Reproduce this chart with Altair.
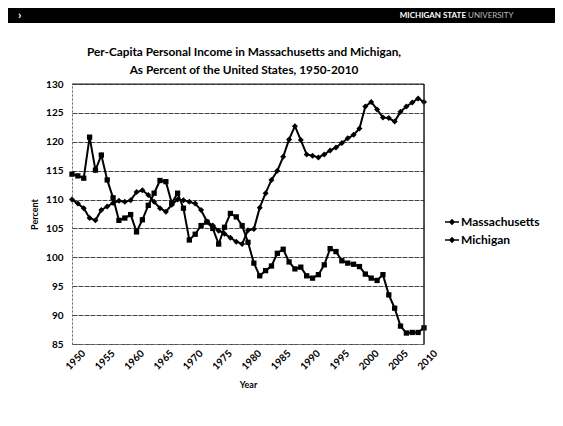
import altair as alt
import pandas as pd

years = list(range(1950, 2011))
series_names = ["Massachusetts", "Michigan"]
massachusetts = [
    110.0, 109.3, 108.5, 106.8, 106.4, 108.2, 108.8, 109.4, 109.8, 109.6,
    109.9, 111.3, 111.6, 110.8, 109.6, 108.5, 107.9, 109.1, 110.0, 109.9,
    109.6, 109.3, 108.2, 106.2, 105.5, 104.6, 104.1, 103.4, 102.7, 102.3,
    104.7, 104.9, 108.6, 111.1, 113.4, 115.0, 117.4, 120.4, 122.7, 120.3,
    117.8, 117.6, 117.3, 117.8, 118.5, 119.0, 119.8, 120.6, 121.2, 122.3,
    126.1, 126.9, 125.6, 124.2, 124.1, 123.5, 125.2, 126.1, 126.8, 127.5,
    126.9,
]
michigan = [
    114.4, 114.1, 113.7, 120.8, 115.1, 117.7, 113.4, 110.3, 106.4, 106.8,
    107.4, 104.4, 106.5, 109.0, 111.1, 113.3, 113.1, 109.4, 111.1, 108.5,
    103.0, 104.0, 105.5, 106.1, 105.0, 102.3, 105.2, 107.6, 107.0, 105.5,
    102.6, 99.0, 96.8, 97.7, 98.5, 100.7, 101.4, 99.2, 98.0, 98.3,
    96.8, 96.4, 97.0, 98.7, 101.5, 101.0, 99.4, 99.0, 98.8, 98.4,
    97.1, 96.4, 96.0, 97.0, 93.5, 91.2, 88.1, 86.9, 87.0, 87.0,
    87.8,
]
y_ticks = [85, 90, 95, 100, 105, 110, 115, 120, 125, 130]
x_ticks = [1950, 1955, 1960, 1965, 1970, 1975, 1980, 1985, 1990, 1995, 2000, 2005, 2010]
title_lines = ["Per-Capita Personal Income in Massachusetts and Michigan,",
               "As Percent of the United States, 1950-2010"]

rows = []
for name, vals in zip(series_names, [massachusetts, michigan]):
    for yr, v in zip(years, vals):
        rows.append({"Year": yr, "Percent": v, "State": name})
df = pd.DataFrame(rows)

FONT = "Lato"

x_scale = alt.Scale(domain=[1950, 2010], nice=False, zero=False)
y_scale = alt.Scale(domain=[85, 130], nice=False, zero=False)

x_axis = alt.Axis(values=x_ticks, format="d", labelAngle=315, title="Year",
                  grid=False, ticks=False, domainColor="#666", domainDash=[2, 2],
                  labelOverlap=False,
                  labelFont=FONT, labelFontWeight="bold", labelFontSize=10,
                  labelColor="black", labelPadding=4, labelOffset=8,
                  titleFont=FONT, titleFontWeight="bold", titleFontSize=9,
                  titleColor="black", titlePadding=9)
y_axis = alt.Axis(values=y_ticks, title="Percent", grid=True, gridColor="#444",
                  gridDash=[5, 1], gridWidth=1, ticks=False, domainColor="#666",
                  domainDash=[2, 2], labelOverlap=False,
                  labelFont=FONT, labelFontWeight="bold",
                  labelFontSize=10, labelColor="black", labelPadding=9,
                  titleFont=FONT, titleFontWeight="bold", titleFontSize=9,
                  titleColor="black", titlePadding=6)

x_enc = alt.X("Year:Q", scale=x_scale, axis=x_axis)
y_enc = alt.Y("Percent:Q", scale=y_scale, axis=y_axis)

color_enc = alt.Color(
    "State:N",
    scale=alt.Scale(domain=series_names, range=["black", "black"]),
    legend=alt.Legend(title=None, orient="none", legendX=372, legendY=130,
                      symbolType="M-1,0H1M0,-0.3L0.3,0L0,0.3L-0.3,0Z",
                      symbolSize=196, symbolStrokeWidth=1.5,
                      symbolFillColor="black", symbolStrokeColor="black",
                      labelFont=FONT, labelFontWeight="bold",
                      labelFontSize=12, labelColor="black",
                      rowPadding=4, labelOffset=1)) 

base = alt.Chart(df)
lines = base.mark_line(strokeWidth=2).encode(x=x_enc, y=y_enc, color=color_enc)

points_ma = base.transform_filter(alt.datum.State == series_names[0]).mark_point(
    shape="diamond", filled=True, opacity=1, color="black", size=36
).encode(x=x_enc, y=y_enc)
points_mi = base.transform_filter(alt.datum.State == series_names[1]).mark_point(
    shape="square", filled=True, opacity=1, color="black", size=28
).encode(x=x_enc, y=y_enc)

one = pd.DataFrame({"k": [0]})
top_rule = alt.Chart(one).mark_rule(color="#222", strokeWidth=1.2).encode(
    y=alt.YDatum(130, type="quantitative", scale=y_scale, axis=y_axis))
right_rule = alt.Chart(one).mark_rule(color="#222", strokeWidth=1.5).encode(
    x=alt.XDatum(2010, type="quantitative", scale=x_scale, axis=x_axis))

header = alt.Chart(one).mark_rect(color="black").encode(
    x=alt.value(-64), x2=alt.value(483), y=alt.value(-76), y2=alt.value(-61))
header_text1 = alt.Chart(one).mark_text(
    text="MICHIGAN STATE", color="white", font=FONT, fontWeight="bold", fontSize=8,
    align="right", baseline="middle").encode(x=alt.value(394), y=alt.value(-68.5))
header_text2 = alt.Chart(one).mark_text(
    text="UNIVERSITY", color="#bbb", font=FONT, fontSize=8,
    align="left", baseline="middle").encode(x=alt.value(396), y=alt.value(-68.5))
header_chev = alt.Chart(one).mark_text(
    text="›", color="white", font=FONT, fontWeight="bold", fontSize=12,
    align="left", baseline="middle").encode(x=alt.value(-54), y=alt.value(-69))

title1 = alt.Chart(one).mark_text(
    text=title_lines[0], color="black", font=FONT, fontWeight="bold", fontSize=11.8,
    align="center", baseline="middle").encode(x=alt.value(172), y=alt.value(-32))
title2 = alt.Chart(one).mark_text(
    text=title_lines[1], color="black", font=FONT, fontWeight="bold", fontSize=11.8,
    align="center", baseline="middle").encode(x=alt.value(172), y=alt.value(-14))

chart = alt.layer(
    header, header_text1, header_text2, header_chev, title1, title2,
    lines, points_ma, points_mi, top_rule, right_rule,
).properties(
    width=352, height=260,
    autosize=alt.AutoSizeParams(type="none"),
    padding={"left": 64, "top": 76, "right": 131, "bottom": 74},
).configure_view(stroke="transparent").configure(background="white")

chart.save("out.html", embed_options={"renderer": "svg", "actions": False})
